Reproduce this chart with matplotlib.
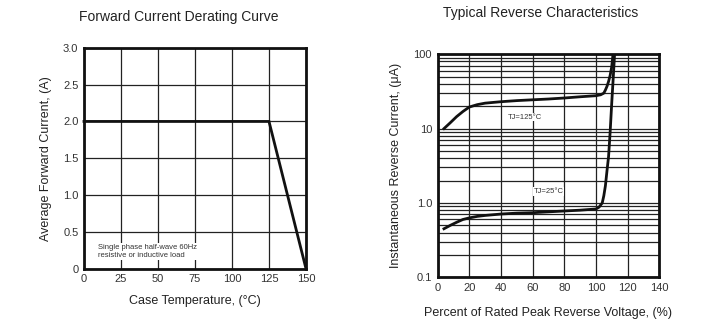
import matplotlib
matplotlib.use("Agg")
import matplotlib.pyplot as plt
import numpy as np

plt.rcParams['font.family'] = ['Liberation Sans', 'DejaVu Sans']

# Left chart: derating curve
derate_temp = [0, 125, 150]
derate_current = [2.0, 2.0, 0.0]
left_xticks = [0, 25, 50, 75, 100, 125, 150]
left_yticks = [0, 0.5, 1.0, 1.5, 2.0, 2.5, 3.0]
left_yticklabels = ["0", "0.5", "1.0", "1.5", "2.0", "2.5", "3.0"]

# Right chart: reverse characteristics
tj125_x = [4, 8, 12, 16, 20, 25, 30, 40, 50, 60, 70, 80, 90, 100, 103, 105, 106, 107, 108, 109, 110, 110.8]
tj125_y = [10, 12, 14.5, 17, 19.5, 21, 22, 23, 23.8, 24.4, 25, 25.8, 26.8, 27.7, 28.5, 30, 33, 37, 43, 52, 68, 100]
tj25_x = [4, 8, 12, 16, 20, 25, 30, 40, 50, 60, 70, 80, 90, 100, 102, 104, 105, 106, 107, 108, 109, 110, 111, 111.8]
tj25_y = [0.45, 0.5, 0.55, 0.6, 0.63, 0.66, 0.68, 0.71, 0.73, 0.74, 0.76, 0.78, 0.8, 0.83, 0.88, 1.0, 1.25, 1.7, 2.7, 4.2, 9, 22, 50, 100]
right_xticks = [0, 20, 40, 60, 80, 100, 120, 140]
right_yticks = [0.1, 1, 10, 100]
right_yticklabels = ["0.1", "1.0", "10", "100"]

fig = plt.figure(figsize=(7.07, 3.21), dpi=100)

grid_kw = dict(color='#222222', linewidth=0.9)

# ---- Left axes
ax1 = fig.add_axes([0.1188, 0.163, 0.314, 0.688])
ax1.set_xlim(0, 150)
ax1.set_ylim(0, 3.0)
ax1.set_xticks(left_xticks)
ax1.set_yticks(left_yticks)
ax1.set_yticklabels(left_yticklabels)
ax1.grid(True, **grid_kw)
ax1.set_axisbelow(True)
ax1.plot(derate_temp, derate_current, color='#111111', linewidth=2.0, solid_joinstyle='miter', clip_on=False, zorder=3)
for s in ax1.spines.values():
    s.set_linewidth(2.0)
    s.set_color('#111111')
ax1.tick_params(length=0, labelsize=8, pad=4, colors='#333333')
ax1.set_xlabel("Case Temperature, (°C)", fontsize=9, color='#222222', labelpad=8)
ax1.set_ylabel("Average Forward Current, (A)", fontsize=9, color='#222222', labelpad=8)
ax1.text(9.5, 0.34, "Single phase half-wave 60Hz\nresistive or inductive load", fontsize=5.5,
         color='#333333', va='top', ha='left', linespacing=1.3,
         bbox=dict(facecolor='white', edgecolor='none', pad=0.5))
fig.text(0.253, 0.948, "Forward Current Derating Curve", ha='center', va='center', fontsize=10, color='#222222')

# ---- Right axes
ax2 = fig.add_axes([0.619, 0.136, 0.3134, 0.695])
ax2.set_yscale('log')
ax2.set_xlim(0, 140)
ax2.set_ylim(0.1, 100)
ax2.set_xticks(right_xticks)
ax2.set_yticks(right_yticks)
ax2.set_yticklabels(right_yticklabels)
ax2.yaxis.set_minor_locator(matplotlib.ticker.LogLocator(base=10, subs=np.arange(2, 10)))
ax2.yaxis.set_minor_formatter(matplotlib.ticker.NullFormatter())
ax2.grid(True, which='both', **grid_kw)
ax2.set_axisbelow(True)
ax2.plot(tj125_x, tj125_y, color='#111111', linewidth=2.0, zorder=3)
ax2.plot(tj25_x, tj25_y, color='#111111', linewidth=2.0, zorder=3)
ax2.text(55, 14.3, "TJ=125°C", fontsize=5.5, ha='center', va='center', color='#333333',
         bbox=dict(facecolor='white', edgecolor='none', pad=0.5))
ax2.text(70, 1.42, "TJ=25°C", fontsize=5.5, ha='center', va='center', color='#333333',
         bbox=dict(facecolor='white', edgecolor='none', pad=0.5))
for s in ax2.spines.values():
    s.set_linewidth(2.0)
    s.set_color('#111111')
ax2.tick_params(which='both', length=0, labelsize=8, pad=4, colors='#333333')
ax2.set_xlabel("Percent of Rated Peak Reverse Voltage, (%)", fontsize=9, color='#222222', labelpad=10)
ax2.set_ylabel("Instantaneous Reverse Current, (μA)", fontsize=9, color='#222222', labelpad=8)
fig.text(0.764, 0.958, "Typical Reverse Characteristics", ha='center', va='center', fontsize=10, color='#222222')

fig.savefig("out.png", dpi=100)
